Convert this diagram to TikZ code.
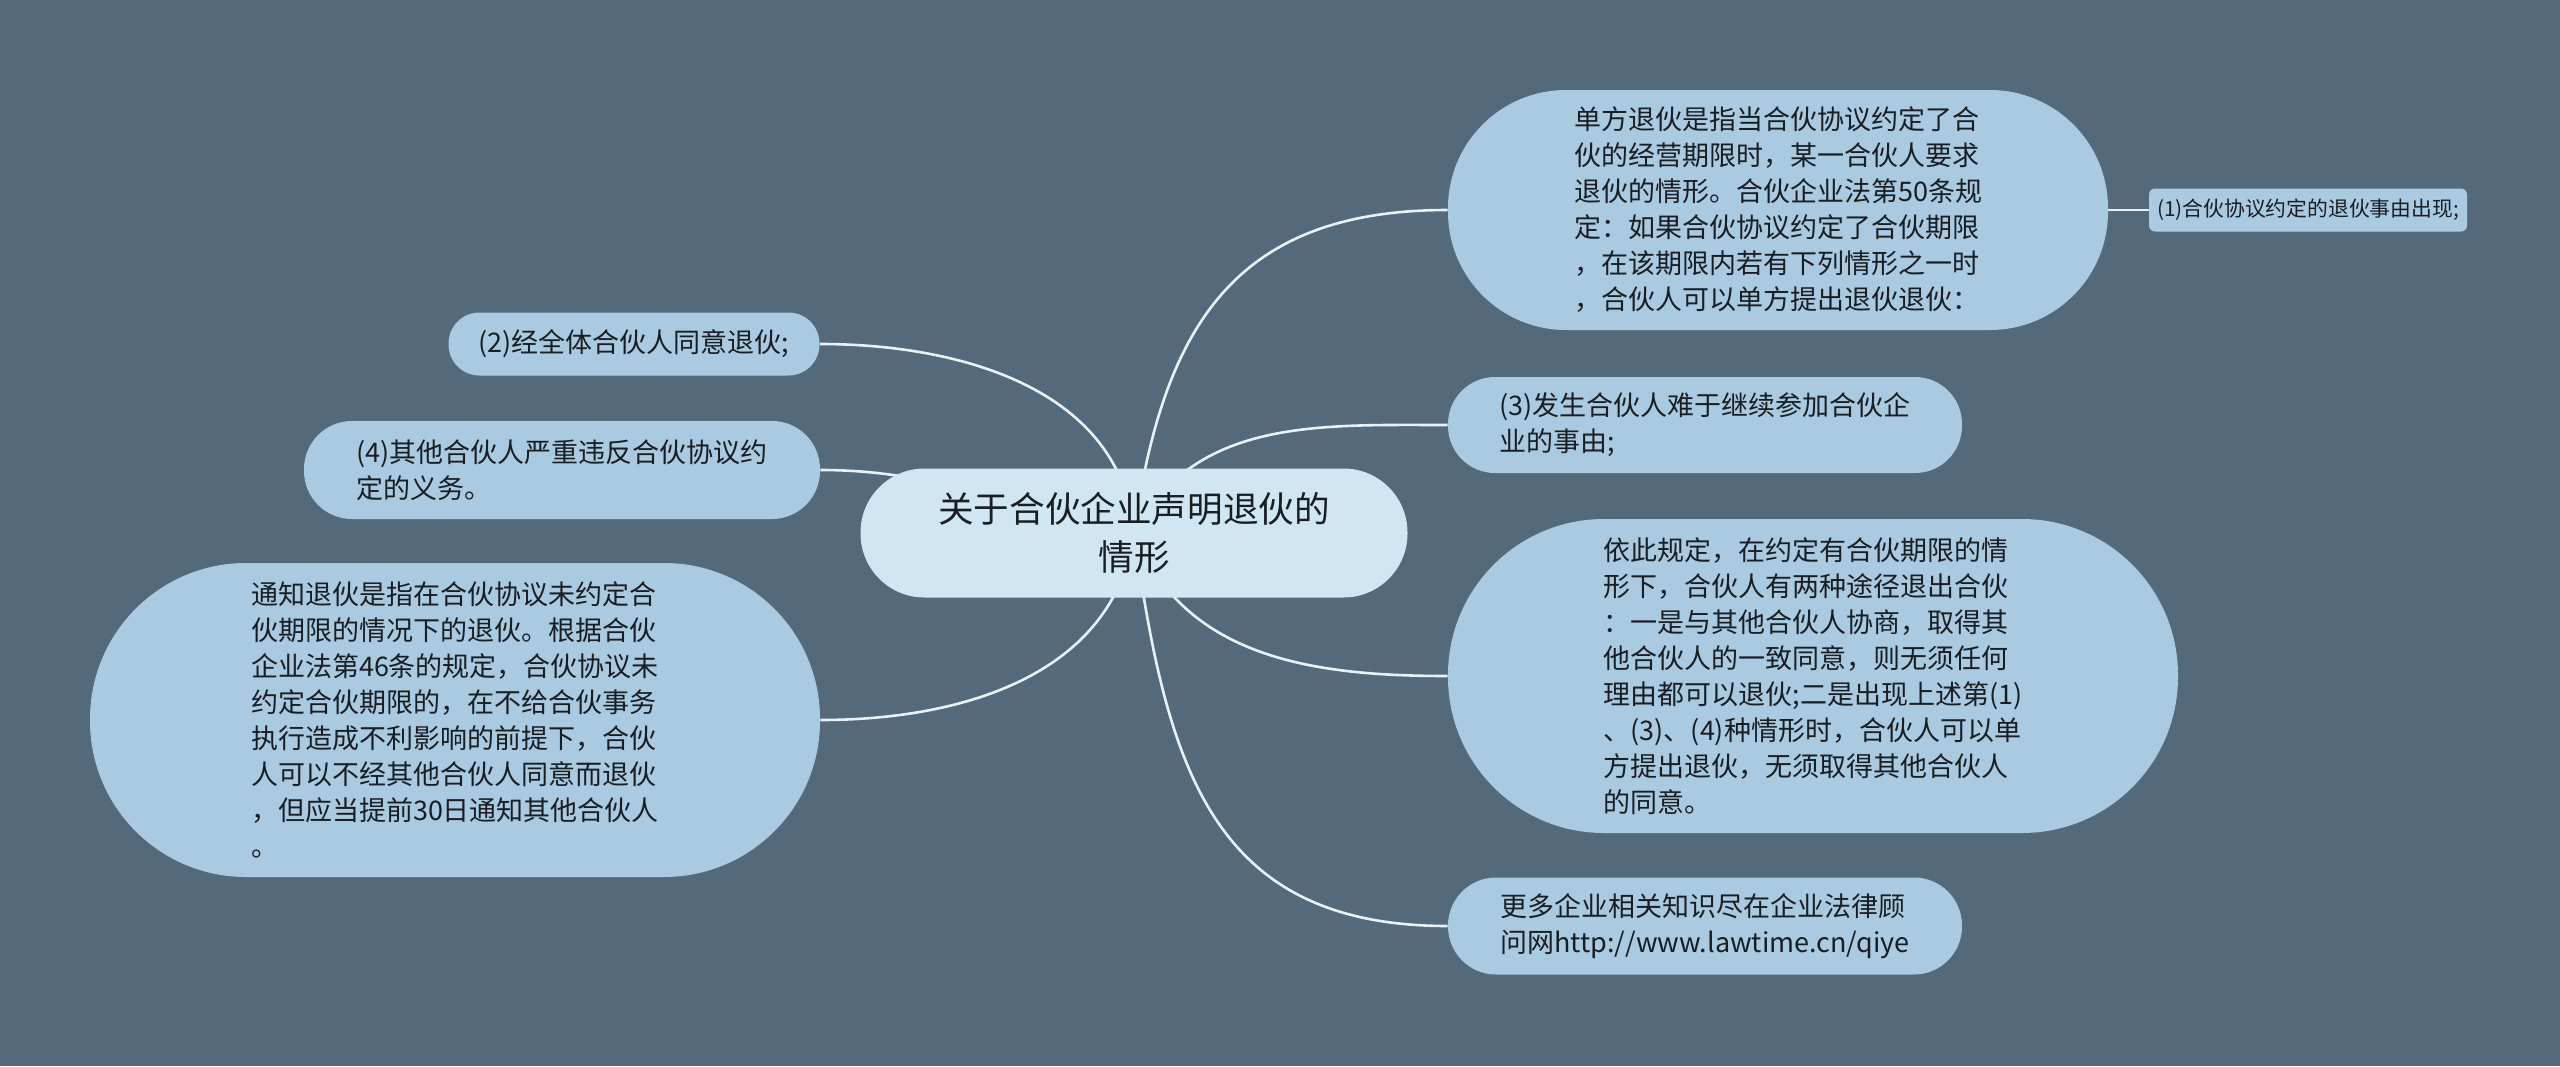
\documentclass[tikz,border=0pt]{standalone}
\usepackage{fontspec}
\setmainfont{Noto Sans CJK SC}
\usetikzlibrary{positioning}
\definecolor{bgslate}{RGB}{84,106,122}
\definecolor{leafblue}{RGB}{170,202,225}
\definecolor{rootblue}{RGB}{208,231,243}
\definecolor{edgewhite}{RGB}{232,241,247}
\definecolor{inkdark}{RGB}{25,30,35}
\pgfdeclarelayer{canvas}
\pgfdeclarelayer{links}
\pgfsetlayers{canvas,links,main}
\tikzset{
  rootbox/.style={fill=rootblue, text=inkdark, align=center, inner sep=0pt,
    minimum width=273.5pt, minimum height=64.5pt, rounded corners=32pt,
    font=\fontsize{17.8}{23.6}\selectfont},
  leafbox/.style={fill=leafblue, text=inkdark, align=left, inner sep=0pt,
    font=\fontsize{13.5}{18}\selectfont},
  tipbox/.style={fill=leafblue, text=inkdark, inner sep=0pt, rounded corners=3pt,
    minimum width=159pt, minimum height=21.5pt, font=\fontsize{10.4}{13}\selectfont},
  link/.style={draw=edgewhite, line width=1.3pt},
}
\begin{document}
\begin{tikzpicture}[x=0.5pt, y=-0.5pt]
\begin{pgfonlayer}{canvas}
\fill[bgslate] (0,0) rectangle (2560,1066);
\end{pgfonlayer}

%--- ROOT ---
\node[rootbox] (root) at (1134,533) {关于合伙企业声明退伙的\\情形};

%--- RIGHT SIDE ---
\node[leafbox, minimum width=330pt, minimum height=120pt, rounded corners=59pt]
  (unilat) at (1778,210)
  {单方退伙是指当合伙协议约定了合\\伙的经营期限时，某一合伙人要求\\退伙的情形。合伙企业法第50条规\\定：如果合伙协议约定了合伙期限\\，在该期限内若有下列情形之一时\\，合伙人可以单方提出退伙退伙：};
\node[tipbox] (case1) at (2308,210) {(1)合伙协议约定的退伙事由出现;};
\node[leafbox, minimum width=257pt, minimum height=48pt, rounded corners=23.5pt]
  (case3) at (1705,425) {(3)发生合伙人难于继续参加合伙企\\业的事由;};
\node[leafbox, minimum width=365pt, minimum height=157pt, rounded corners=78pt]
  (ways) at (1813,676)
  {依此规定，在约定有合伙期限的情\\形下，合伙人有两种途径退出合伙\\：一是与其他合伙人协商，取得其\\他合伙人的一致同意，则无须任何\\理由都可以退伙;二是出现上述第(1)\\、(3)、(4)种情形时，合伙人可以单\\方提出退伙，无须取得其他合伙人\\的同意。};
\node[leafbox, minimum width=257pt, minimum height=48.5pt, rounded corners=24pt]
  (more) at (1705,926) {更多企业相关知识尽在企业法律顾\\问网http://www.lawtime.cn/qiye};

%--- LEFT SIDE ---
\node[leafbox, minimum width=185.5pt, minimum height=31.5pt, rounded corners=15.5pt]
  (case2) at (634,344) {(2)经全体合伙人同意退伙;};
\node[leafbox, minimum width=258pt, minimum height=49pt, rounded corners=24pt]
  (case4) at (562,470) {(4)其他合伙人严重违反合伙协议约\\定的义务。};
\node[leafbox, minimum width=365pt, minimum height=157pt, rounded corners=78pt]
  (notice) at (455,720)
  {通知退伙是指在合伙协议未约定合\\伙期限的情况下的退伙。根据合伙\\企业法第46条的规定，合伙协议未\\约定合伙期限的，在不给合伙事务\\执行造成不利影响的前提下，合伙\\人可以不经其他合伙人同意而退伙\\，但应当提前30日通知其他合伙人\\。};

%--- CONNECTORS ---
\begin{pgfonlayer}{links}
\draw[link] (root.center) to[out=82, in=180, looseness=1.2] (unilat.west);
\draw[link] (unilat.east) -- (case1.west);
\draw[link] (root.center) to[out=62, in=180] (case3.west);
\draw[link] (root.center) to[out=-68, in=180] (ways.west);
\draw[link] (root.center) to[out=-82, in=180, looseness=1.2] (more.west);
\draw[link] (root.center) to[out=95, in=0] (case2.east);
\draw[link] (root.center) to[out=170, in=0] (case4.east);
\draw[link] (root.center) to[out=-98, in=0] (notice.east);
\end{pgfonlayer}
\end{tikzpicture}
\end{document}
